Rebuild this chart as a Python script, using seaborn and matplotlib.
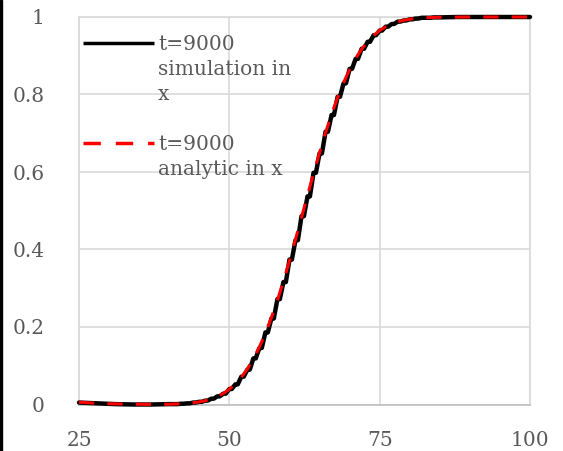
import matplotlib
matplotlib.use("Agg")
import matplotlib.pyplot as plt
import pandas as pd
import seaborn as sns
from matplotlib.patches import Rectangle

# Simulated cumulative distribution in x at t=9000 (sampled on the lattice)
x_sim = [25, 28, 31, 34, 37, 40, 41, 42, 43, 44, 45, 46, 47, 48, 49, 50,
         51, 52, 53, 54, 55, 56, 57, 58, 59, 60, 61, 62, 63, 64, 65, 66,
         67, 68, 69, 70, 71, 72, 73, 74, 75, 76, 77, 78, 79, 80, 81, 82,
         83, 84, 85, 88, 91, 94, 97, 100]
cdf_sim = [0.005, 0.003, 0.001, 0.000, 0.000, 0.001, 0.001, 0.002, 0.003,
           0.005, 0.007, 0.010, 0.015, 0.021, 0.028, 0.040, 0.052, 0.072,
           0.090, 0.119, 0.146, 0.186, 0.222, 0.272, 0.316, 0.374, 0.424,
           0.486, 0.537, 0.598, 0.648, 0.704, 0.747, 0.794, 0.829, 0.866,
           0.892, 0.918, 0.936, 0.953, 0.965, 0.975, 0.982, 0.988, 0.991,
           0.994, 0.996, 0.998, 0.998, 0.999, 0.999, 1.000, 1.000, 1.000,
           1.000, 1.000]
# each lattice sample holds its value for this fraction of a unit in x
hold = 0.4

# Analytic cumulative distribution in x at t=9000
x_ana = [25, 27, 30, 33, 36, 38, 40, 41, 42, 43, 44, 45, 46, 47, 48, 49,
         50, 51, 52, 53, 54, 55, 56, 57, 58, 59, 60, 61, 62, 63, 64, 65,
         66, 67, 68, 69, 70, 71, 72, 73, 74, 75, 76, 77, 78, 79, 80, 81,
         82, 83, 84, 85, 90, 95, 100]
cdf_ana = [0.006, 0.004, 0.002, 0.001, 0.0005, 0.0005, 0.0007, 0.0012,
           0.0019, 0.0029, 0.0045, 0.0067, 0.0099, 0.0144, 0.0205, 0.0287,
           0.0395, 0.0533, 0.0706, 0.0920, 0.1178, 0.1485, 0.1841, 0.2245,
           0.2696, 0.3188, 0.3711, 0.4263, 0.4829, 0.5398, 0.5960, 0.6502,
           0.7016, 0.7490, 0.7922, 0.8307, 0.8643, 0.8931, 0.9171, 0.9368,
           0.9527, 0.9652, 0.9748, 0.9821, 0.9876, 0.9915, 0.9943, 0.9962,
           0.9976, 0.9984, 0.9990, 0.9994, 1.0, 1.0, 1.0]

x_ticks = [25, 50, 75, 100]
x_labels = ["25", "50", "75", "100"]
y_ticks = [0, 0.2, 0.4, 0.6, 0.8, 1]
y_labels = ["0", "0.2", "0.4", "0.6", "0.8", "1"]
legend_labels = ["t=9000\nsimulation in\nx", "t=9000\nanalytic in x"]

sns.set_theme(style="white")
plt.rcParams["font.family"] = ["DejaVu Serif", "Liberation Serif"]

TEXT = "#595959"
GRID = "#d9d9d9"
FS = 14.5

fig = plt.figure(figsize=(5.63, 4.51), dpi=100)
fig.patches.append(Rectangle((0, 0), 2 / 563, 1, transform=fig.transFigure,
                             color="black", zorder=10))
ax = fig.add_axes([79 / 563, 46.5 / 451, 451 / 563, 387.5 / 451])

# long-form table for the simulation: every sample and the end of its hold
sim_rows = []
for xv, fv in zip(x_sim, cdf_sim):
    sim_rows.append((xv, fv))
    if 40 <= xv < 85:
        sim_rows.append((xv + hold, fv))
sim = pd.DataFrame(sim_rows, columns=["x", "F"])
ana = pd.DataFrame({"x": x_ana, "F": cdf_ana})

sns.lineplot(data=sim, x="x", y="F", ax=ax, color="black", lw=3.2,
             clip_on=False, zorder=3, estimator=None)
sns.lineplot(data=ana, x="x", y="F", ax=ax, color="#ff0000", lw=2.2,
             linestyle=(0, (5, 4.3)), clip_on=False, zorder=4)

ax.set_xlim(25, 100)
ax.set_ylim(0, 1)
ax.set_xticks(x_ticks, x_labels)
ax.set_yticks(y_ticks, y_labels)
ax.set_xlabel("")
ax.set_ylabel("")
ax.tick_params(length=0, labelsize=FS, colors=TEXT)
ax.tick_params(axis="x", pad=19)
ax.tick_params(axis="y", pad=25)
ax.grid(True, color=GRID, lw=1.2)
ax.set_axisbelow(True)
for side in ("left", "top", "right"):
    ax.spines[side].set_color(GRID)
    ax.spines[side].set_linewidth(1.2)
ax.spines["bottom"].set_color("#bfbfbf")
ax.spines["bottom"].set_linewidth(1.2)

# Legend drawn in the upper left, handles level with the first text line
handle_styles = [dict(color="black", lw=2.5),
                 dict(color="#ff0000", lw=2.5, linestyle=(0, (5, 4.3)))]
handle_y = [0.933, 0.675]
for y, style, label in zip(handle_y, handle_styles, legend_labels):
    ax.plot([0.009, 0.166], [y, y], transform=ax.transAxes, zorder=5,
            solid_capstyle="butt", dash_capstyle="butt", **style)
    ax.text(0.175, y + 0.021, label, transform=ax.transAxes, va="top",
            ha="left", fontsize=FS, color=TEXT, linespacing=1.42, zorder=5)

fig.savefig("out.png", dpi=100)
